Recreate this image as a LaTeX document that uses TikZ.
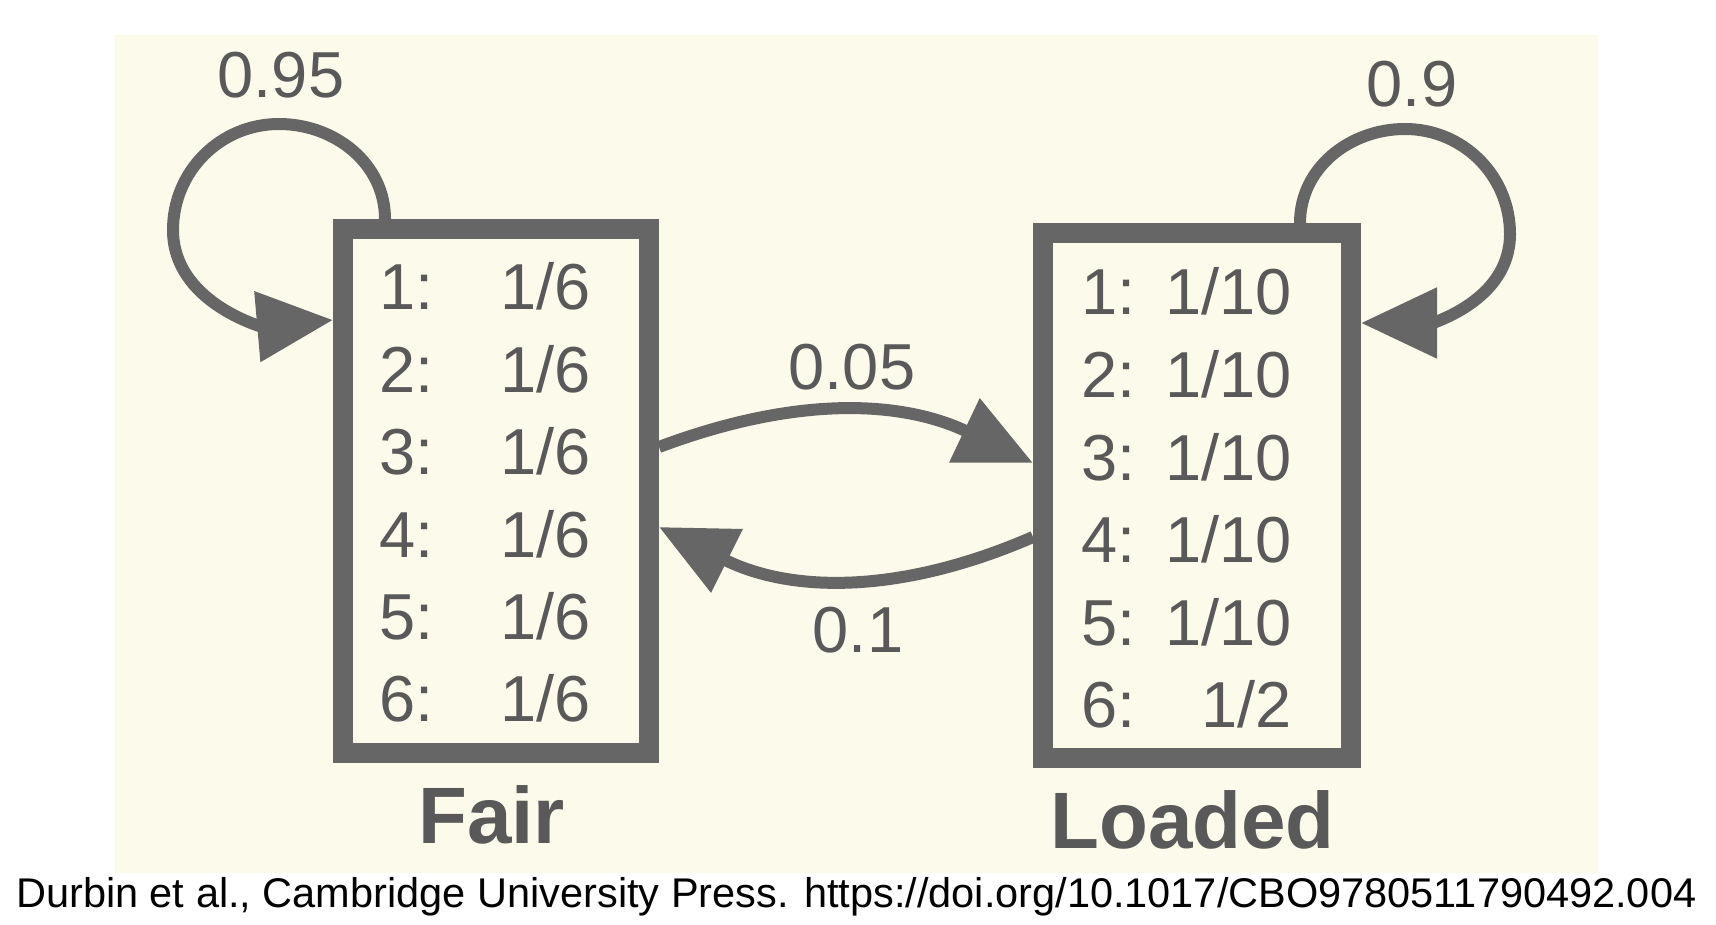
\documentclass[tikz,border=0pt]{standalone}
\usepackage{fontspec}
\setmainfont{Liberation Sans}
\usetikzlibrary{arrows.meta,calc}
\definecolor{bgcream}{HTML}{FCFAEB}
\definecolor{inkgray}{HTML}{666666}
\definecolor{txtgray}{HTML}{595959}
\begin{document}
\begin{tikzpicture}[x=1pt,y=1pt,
  statebox/.style={draw=inkgray, line width=20pt, minimum width=306pt, minimum height=524pt, inner sep=0pt, outer sep=10pt},
  rowtxt/.style={inner sep=0pt, text=txtgray, font=\fontsize{65}{78}\selectfont},
  lbl/.style={inner sep=0pt, anchor=base, text=txtgray, font=\fontsize{65}{78}\selectfont},
  statename/.style={inner sep=0pt, anchor=base, text=txtgray, font=\bfseries\fontsize{80}{96}\selectfont},
  conn/.style={draw=inkgray, line width=12pt, -{Triangle[length=76pt,width=68pt]}},
]
\useasboundingbox (0,0) rectangle (1716,924);
\fill[white] (0,0) rectangle (1716,924);
\fill[bgcream] (115,51) rectangle (1598,889);

% state boxes
\node[statebox] (fair) at (496,433) {};
\node[statebox, minimum width=308pt, minimum height=525pt] (loaded) at (1197,428.5) {};

% emission rows
\foreach \i [count=\k from 0] in {1,...,6} {
  \node[rowtxt, anchor=base west] (fk\i) at (379,{614-82.4*\k}) {\i:};
  \node[rowtxt, anchor=base east] (fv\i) at (591,{614-82.4*\k}) {1/6};
}
\foreach \i/\p [count=\k from 0] in {1/1\,/10,2/1\,/10,3/1\,/10,4/1\,/10,5/1\,/10,6/1\,/2} {
  \node[rowtxt, anchor=base west] (lk\i) at (1081,{609-82.6*\k}) {\i:};
}
\foreach \i/\p [count=\k from 0] in {1/{1/10},2/{1/10},3/{1/10},4/{1/10},5/{1/10},6/{1/2}} {
  \node[rowtxt, anchor=base east] (lv\i) at (1292,{609-82.6*\k}) {\p};
}

% state names
\node[statename] (fairname) at (491.5,81) {Fair};
\node[statename] (loadedname) at (1192.5,76) {Loaded};

% coordinates on the boxes
\coordinate (fs) at ($(fair.north west)+(52,0)$);
\coordinate (fe) at ($(fair.north west)+(0,-101)$);
\coordinate (ls) at ($(loaded.north west)+(267,0)$);
\coordinate (le) at ($(loaded.north east)+(0,-100)$);
\coordinate (fo) at ($(fair.north east)+(0,-228)$);
\coordinate (li) at ($(loaded.north west)+(0,-240)$);
\coordinate (lo) at ($(loaded.north west)+(0,-314)$);
\coordinate (fi) at ($(fair.north east)+(0,-308)$);

% self loops
\draw[conn] (fs) to[out=90,in=0] ++(-106,95) to[out=180,in=90] ++(-106,-106) to[out=-90,in=185] (fe);
\draw[conn] (ls) to[out=90,in=180] ++(105,94) to[out=0,in=90] ++(105,-105) to[out=-90,in=0] (le);

% transitions
\draw[conn] (fo) to[bend left=23] (li);
\draw[conn] (lo) to[bend left=25] (fi);

% labels
\node[lbl] (p95) at (281,826) {0.95};
\node[lbl] (p9) at (1412,817) {0.9};
\node[lbl] (p05) at (852,534) {0.05};
\node[lbl] (p1) at (858,271) {0.1};

% credit
\node[inner sep=0pt, anchor=base west, font=\fontsize{41.5}{50}\selectfont] (credit) at (16,17) {Durbin et al., Cambridge University Press. https://doi.org/10.1017/CBO9780511790492.004};
\end{tikzpicture}
\end{document}
